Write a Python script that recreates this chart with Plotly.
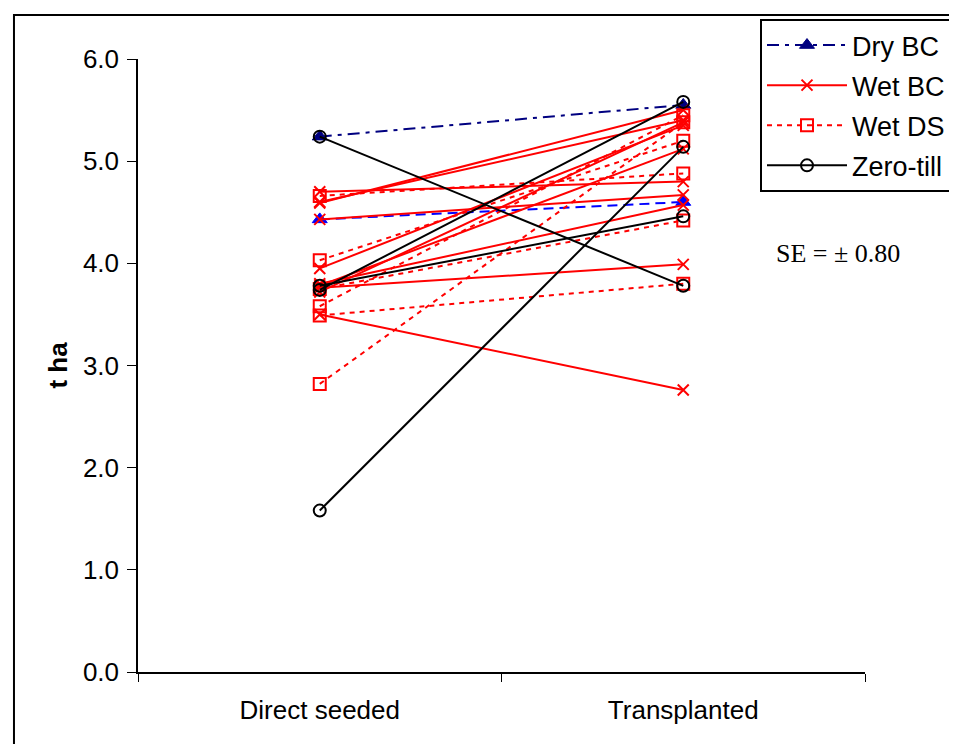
import plotly.graph_objects as go

categories = ["Direct seeded", "Transplanted"]
y_ticks = [0, 1, 2, 3, 4, 5, 6]

dry_bc_ds = [5.24, 4.43]
dry_bc_tp = [5.55, 4.60]

wet_bc_ds = [4.59, 4.60, 4.70, 4.43, 3.95, 3.78, 3.72, 3.80, 3.76, 3.50]
wet_bc_tp = [5.50, 5.40, 4.80, 4.67, 5.35, 5.12, 5.38, 4.57, 3.99, 2.76]

wet_ds_ds = [4.66, 4.03, 3.75, 3.58, 3.49, 2.82]
wet_ds_tp = [4.88, 5.20, 4.42, 5.45, 3.80, 5.38]

zt_ds = [5.24, 3.74, 3.78, 1.58]
zt_tp = [3.78, 5.58, 4.46, 5.14]

fig = go.Figure()

def add_series(name, ds, tp, color, dash, marker, colors=None):
    for i, (a, b) in enumerate(zip(ds, tp)):
        c = colors[i] if colors else color
        d = dash[i] if isinstance(dash, list) else dash
        fig.add_trace(go.Scatter(
            x=categories, y=[a, b], mode="lines+markers", name=name,
            legendgroup=name, showlegend=(i == 0),
            line=dict(color=c, width=2, dash=d),
            marker=dict(symbol=marker["symbol"], size=marker["size"], color=c,
                        line=dict(color=c, width=marker["lw"])),
        ))

add_series("Dry BC", dry_bc_ds, dry_bc_tp, "#000080", ["12px,6px,4px,6px", "10px,6px"],
           dict(symbol="triangle-up", size=13, lw=1), colors=["#000080", "#0000FF"])
add_series("Wet BC", wet_bc_ds, wet_bc_tp, "#FF0000", "solid",
           dict(symbol="x-thin-open", size=11, lw=2))
add_series("Wet DS", wet_ds_ds, wet_ds_tp, "#FF0000", "5px,5px",
           dict(symbol="square-open", size=12, lw=2))
add_series("Zero-till", zt_ds, zt_tp, "#000000", "solid",
           dict(symbol="circle-open", size=12, lw=2))

# outer chart border
fig.add_shape(type="rect", xref="paper", yref="paper",
              x0=-0.1706, x1=1.25, y0=-0.2, y1=1.0717,
              line=dict(color="black", width=2), fillcolor="rgba(0,0,0,0)", layer="below")

fig.add_annotation(text="SE = ± 0.80", xref="paper", yref="paper",
                   x=(838 - 138) / 727, y=(672 - 253) / 614, showarrow=False,
                   xanchor="center", yanchor="middle",
                   font=dict(family="Liberation Serif, Times New Roman, serif", size=26, color="black"))

fig.update_layout(
    width=957, height=744,
    margin=dict(l=130, r=100, t=50, b=80),
    paper_bgcolor="white", plot_bgcolor="white",
    font=dict(family="Liberation Sans, Arial, sans-serif", size=26, color="black"),
    legend=dict(x=(760 - 138) / 727, y=(672 - 19) / 614, xanchor="left", yanchor="top",
                bordercolor="black", borderwidth=2, bgcolor="white",
                font=dict(size=27), itemwidth=80, tracegroupgap=2),
    xaxis=dict(type="category", range=[-0.5, 1.5], showgrid=False, showline=True,
               linecolor="black", linewidth=1.5, ticks="outside", ticklen=8,
               tickcolor="black", tickson="boundaries", tickfont=dict(size=26),
               ticklabelstandoff=14),
    yaxis=dict(range=[0, 6], tickvals=y_ticks, tickformat=".1f", showgrid=False,
               showline=True, linecolor="black", linewidth=1.5, ticks="outside",
               ticklen=9, tickcolor="black", zeroline=False, tickfont=dict(size=26),
               ticklabelstandoff=3,
               title=dict(text="<b>t ha</b>", font=dict(size=26), standoff=8)),
)

fig.write_html("out.html")
